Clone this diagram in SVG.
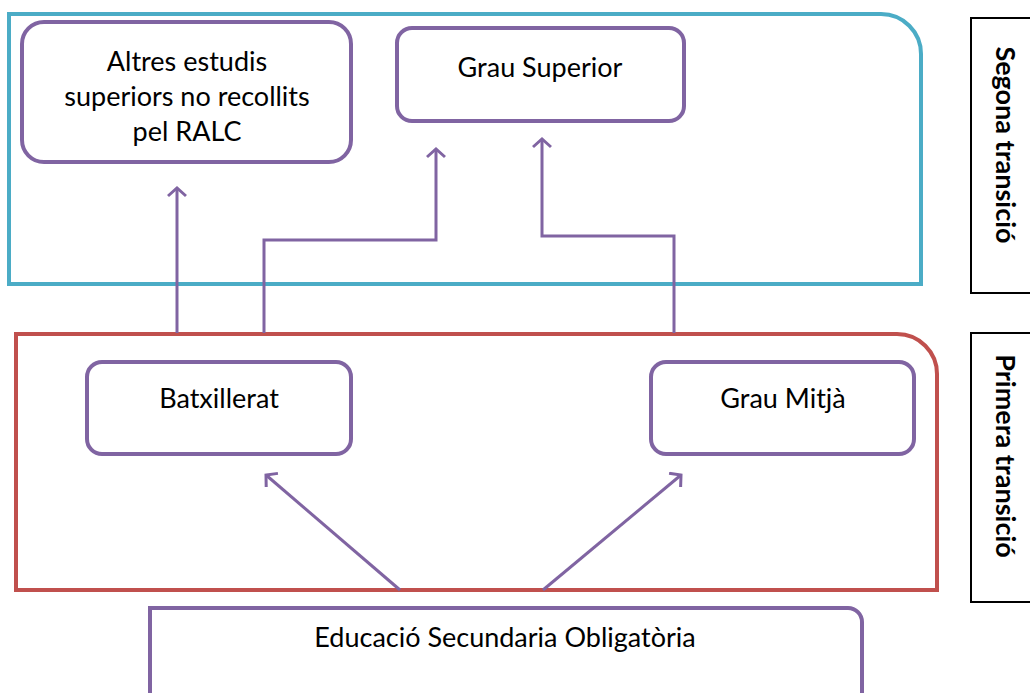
<svg xmlns="http://www.w3.org/2000/svg" width="1030" height="693" viewBox="0 0 1030 693">
<defs>
<style>
.node{fill:#fff;stroke:#8064A2;stroke-width:4}
.lbl{font-family:Lato,"Liberation Sans",sans-serif;font-size:27px;fill:#000;text-anchor:middle}
.side{font-family:Lato,"Liberation Sans",sans-serif;font-size:27px;font-weight:bold;fill:#000;text-anchor:middle}
.conn{fill:none;stroke:#8064A2;stroke-width:3}
.sidebox{fill:#fff;stroke:#000;stroke-width:2}
</style>
<marker id="ah" viewBox="0 0 20 20" refX="10" refY="10" markerWidth="20" markerHeight="20" markerUnits="userSpaceOnUse" orient="auto">
<path d="M2,1 L10,10 L2,19" fill="none" stroke="#8064A2" stroke-width="3"/>
</marker>
</defs>
<rect width="1030" height="693" fill="#fff"/>
<g id="segona">
<path d="M9,14 H881 A40,40 0 0 1 921,54 V284 H9 Z" fill="none" stroke="#4BACC6" stroke-width="4"/>
</g>
<g id="primera">
<path d="M16,334 H897 A40,40 0 0 1 937,374 V590 H16 Z" fill="none" stroke="#C0504D" stroke-width="4"/>
</g>
<g id="altres">
<rect class="node" x="22" y="22" width="329" height="140" rx="22"/>
<text class="lbl" x="187" y="71">Altres estudis</text>
<text class="lbl" x="187" y="106">superiors no recollits</text>
<text class="lbl" x="187" y="141">pel RALC</text>
</g>
<g id="grau-superior">
<rect class="node" x="397" y="28" width="287" height="93" rx="15"/>
<text class="lbl" x="540" y="77">Grau Superior</text>
</g>
<g id="batxillerat">
<rect class="node" x="87" y="362" width="264" height="92" rx="15"/>
<text class="lbl" x="219" y="408">Batxillerat</text>
</g>
<g id="grau-mitja">
<rect class="node" x="651" y="362" width="263" height="92" rx="15"/>
<text class="lbl" x="783" y="408">Grau Mitjà</text>
</g>
<g id="eso">
<path class="node" d="M150,700 V608 H848 A14,14 0 0 1 862,622 V700"/>
<text class="lbl" x="505" y="647">Educació Secundaria Obligatòria</text>
</g>
<g id="label-segona">
<rect class="sidebox" x="971" y="18" width="70" height="275"/>
<text class="side" transform="translate(996,145) rotate(90)">Segona transició</text>
</g>
<g id="label-primera">
<rect class="sidebox" x="971" y="333" width="70" height="269"/>
<text class="side" transform="translate(996,456) rotate(90)">Primera transició</text>
</g>
<g id="connectors">
<path class="conn" d="M177,333 V188" marker-end="url(#ah)"/>
<path class="conn" d="M264,333 V240 H436 V149" marker-end="url(#ah)"/>
<path class="conn" d="M674,333 V236 H542 V139" marker-end="url(#ah)"/>
<path class="conn" d="M400,590 L266,475" marker-end="url(#ah)"/>
<path class="conn" d="M543,590 L681,475" marker-end="url(#ah)"/>
</g>
</svg>
